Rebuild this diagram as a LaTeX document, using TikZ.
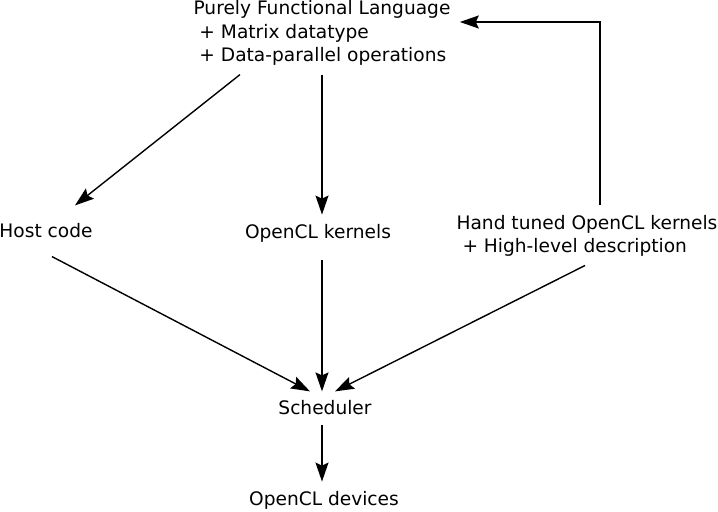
\documentclass[tikz,border=0pt]{standalone}
\usepackage{fontspec}
\setmainfont{DejaVu Sans}
\usepackage{tikz}
\usetikzlibrary{arrows.meta,positioning}
\tikzset{
  flow/.style={-{Stealth[length=9.5pt,width=6.5pt,inset=1.5pt]}, line width=0.7pt},
  lbl/.style={inner sep=4.5pt, align=left}
}

\begin{document}
\begin{tikzpicture}[x=0.5pt, y=-0.5pt, every node/.style={font=\fontsize{9.3}{11.6}\selectfont}]
  \useasboundingbox (0,0) rectangle (718,512);
  \node[lbl] (lang) at (322,33) {Purely Functional Language\\ \ + Matrix datatype\\ \ + Data-parallel operations};
  \node[lbl, inner ysep=9pt] (host) at (46,231) {Host code};
  \node[lbl] (kern) at (318,233) {OpenCL kernels};
  \node[lbl] (hand) at (587,235.5) {Hand tuned OpenCL kernels\\ \ + High-level description};
  \node[lbl] (sched) at (325,408) {Scheduler};
  \node[lbl] (dev) at (324,500) {OpenCL devices};
  \draw[flow] ([xshift=-41pt]lang.south) -- ([xshift=14.5pt]host.north);
  \draw[flow] (lang.south) -- (lang.south |- kern.north);
  \draw[flow] ([xshift=6.5pt]hand.north) |- ([yshift=5.5pt]lang.east);
  \draw[flow] ([xshift=3pt]host.south) -- ([xshift=-7.5pt]sched.north);
  \draw[flow, shorten <=4.5pt] (kern.south -| lang.south) -- (lang.south |- sched.north);
  \draw[flow] ([xshift=-1pt]hand.south) -- ([xshift=5pt]sched.north);
  \draw[flow] ([xshift=-1.5pt]sched.south) -- ([xshift=-1pt]dev.north);
\end{tikzpicture}
\end{document}
